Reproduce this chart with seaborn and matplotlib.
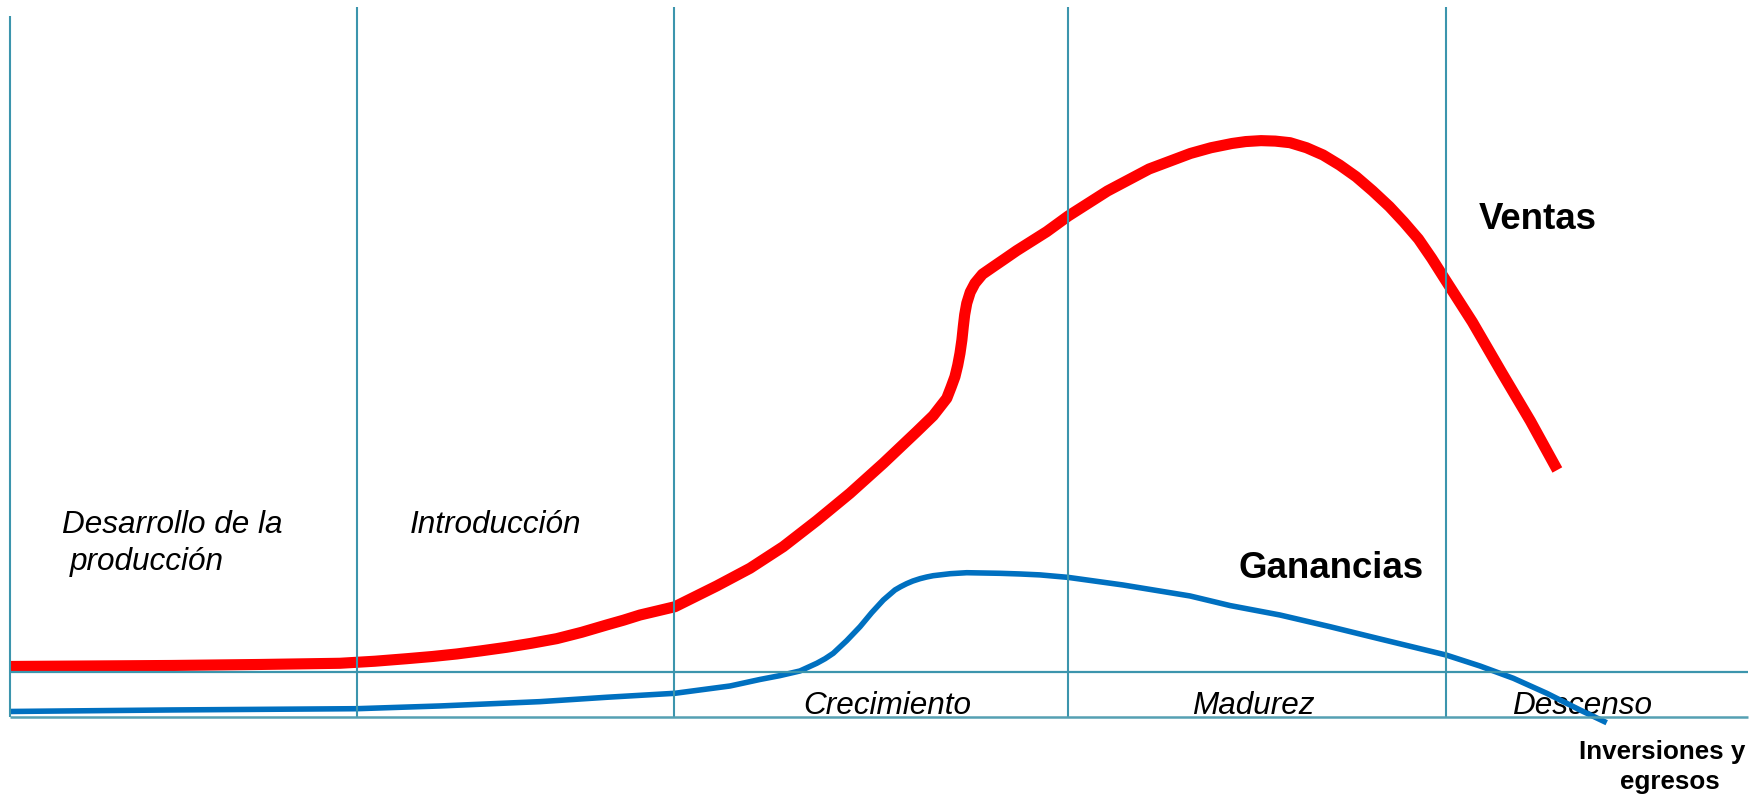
import matplotlib
matplotlib.use("Agg")
import matplotlib.pyplot as plt
import seaborn as sns
import pandas as pd

# ---------------- data ----------------
ventas_x = [0.0, 9.32, 14.38, 16.70, 18.99, 21.00, 22.83, 24.30, 25.70, 27.10,
            28.58, 30.00, 31.46, 32.90, 34.33, 35.30, 36.25, 37.25, 38.26, 40.66,
            42.58, 44.49, 46.42, 48.33, 50.25, 52.17, 53.12, 53.90, 54.15, 54.37,
            54.53, 54.66, 54.77, 54.85, 54.93, 55.05, 55.25, 55.52, 55.95, 56.58,
            57.20, 57.92, 59.65, 60.89, 63.15, 65.54, 67.92, 69.10, 70.31, 71.10,
            71.98, 72.80, 73.65, 74.60, 75.55, 76.50, 77.45, 78.40, 79.37, 80.20,
            81.04, 81.80, 82.59, 84.14, 85.81, 87.48, 89.03]
ventas_y = [0.83, 0.98, 1.13, 1.22, 1.31, 1.62, 2.00, 2.33, 2.71, 3.18,
            3.72, 4.32, 5.02, 5.98, 7.08, 7.80, 8.58, 9.20, 9.83, 12.95,
            15.62, 18.87, 22.79, 26.91, 31.43, 36.19, 38.60, 41.22, 42.90, 44.47,
            46.20, 48.00, 50.00, 52.00, 53.80, 55.53, 57.20, 58.54, 59.90, 61.04,
            62.15, 63.45, 66.31, 68.67, 72.44, 75.75, 78.09, 78.95, 79.59, 79.88,
            80.02, 79.95, 79.71, 78.95, 77.86, 76.35, 74.59, 72.45, 70.08, 67.75,
            65.20, 62.30, 59.04, 52.71, 45.18, 37.80, 30.42]

ganancias_x = [0.0, 9.32, 19.97, 24.74, 30.49, 34.33, 38.26, 39.70, 41.43, 43.15,
               44.30, 45.45, 46.42, 46.90, 47.37, 48.14, 48.91, 49.58, 50.25, 50.92,
               51.25, 51.59, 51.95, 52.36, 52.74, 53.12, 54.10, 55.05, 56.96, 58.10,
               59.26, 60.87, 64.04, 67.89, 70.20, 73.07, 75.95, 78.83, 82.62, 84.58,
               86.50, 88.42, 90.33, 91.87]
ganancias_y = [-5.95, -5.72, -5.53, -5.12, -4.47, -3.81, -3.21, -2.71, -2.11, -1.13,
               -0.55, 0.15, 1.31, 2.00, 2.82, 4.71, 6.82, 8.93, 10.84, 12.35,
               12.85, 13.30, 13.70, 14.05, 14.30, 14.50, 14.80, 14.95, 14.86, 14.76,
               14.62, 14.25, 13.10, 11.45, 10.00, 8.58, 6.82, 4.97, 2.56, 0.90,
               -0.95, -3.21, -5.72, -7.64]

stage_bounds = [0.0, 19.97, 38.2, 60.87, 82.6]
x_end = 100.0
zero_line = 0.0
bottom_line = -6.78

stage_labels = ["Desarrollo de la", "producción", "Introducción", "Crecimiento",
                "Madurez", "Descenso"]
series_labels = ["Ventas", "Ganancias"]
axis_labels = ["Inversiones y", "egresos"]

# ---------------- style ----------------
sns.set_theme(style="white")
plt.rcParams["font.family"] = ["Liberation Sans", "DejaVu Sans"]

fig = plt.figure(figsize=(17.59, 7.98), dpi=100)
ax = fig.add_axes([0, 0, 1, 1])
ax.set_xlim(-0.575, 100.633)
ax.set_ylim(-18.98, 101.2)
ax.axis("off")

grid_color = "#3C95AD"

df_v = pd.DataFrame({"x": ventas_x, "y": ventas_y})
df_g = pd.DataFrame({"x": ganancias_x, "y": ganancias_y})

sns.lineplot(data=df_v, x="x", y="y", ax=ax, color="#FF0000", linewidth=8.0,
             estimator=None, sort=False, solid_capstyle="butt",
             solid_joinstyle="round", zorder=2)
sns.lineplot(data=df_g, x="x", y="y", ax=ax, color="#0070C0", linewidth=4.0,
             estimator=None, sort=False, solid_capstyle="butt",
             solid_joinstyle="round", zorder=2)

# stage separators
for i, xb in enumerate(stage_bounds):
    top = 98.8 if i == 0 else 100.1
    ax.plot([xb, xb], [bottom_line, top], color=grid_color, lw=1.5,
            zorder=3, solid_capstyle="butt")
ax.plot([stage_bounds[0], x_end], [zero_line, zero_line], color=grid_color,
        lw=1.6, zorder=3, solid_capstyle="butt")
ax.plot([stage_bounds[0], x_end], [bottom_line, bottom_line], color="#55A0B3",
        lw=1.8, zorder=3, solid_capstyle="butt")

# stage labels
ital = dict(fontsize=22.7, style="italic", color="black", va="baseline",
            ha="left", zorder=1)
ax.text(2.97, 20.93, stage_labels[0], **ital)
ax.text(3.42, 15.36, stage_labels[1], **ital)
ax.text(22.99, 20.93, stage_labels[2], **ital)
ax.text(45.63, -6.33, stage_labels[3], **ital)
ax.text(67.99, -6.33, stage_labels[4], **ital)
ax.text(86.42, -6.33, stage_labels[5], **ital)

bold = dict(fontsize=26.4, fontweight="bold", color="black", va="baseline",
            ha="left", zorder=4)
ax.text(84.49, 66.64, series_labels[0], **bold)
ax.text(70.66, 14.16, series_labels[1], **bold)

ax.text(95.08, -13.10, axis_labels[0], fontsize=18.7, fontweight="bold",
        ha="center", va="baseline", color="black")
ax.text(95.51, -17.62, axis_labels[1], fontsize=18.7, fontweight="bold",
        ha="center", va="baseline", color="black")

fig.savefig("out.png", dpi=100, facecolor="white")
